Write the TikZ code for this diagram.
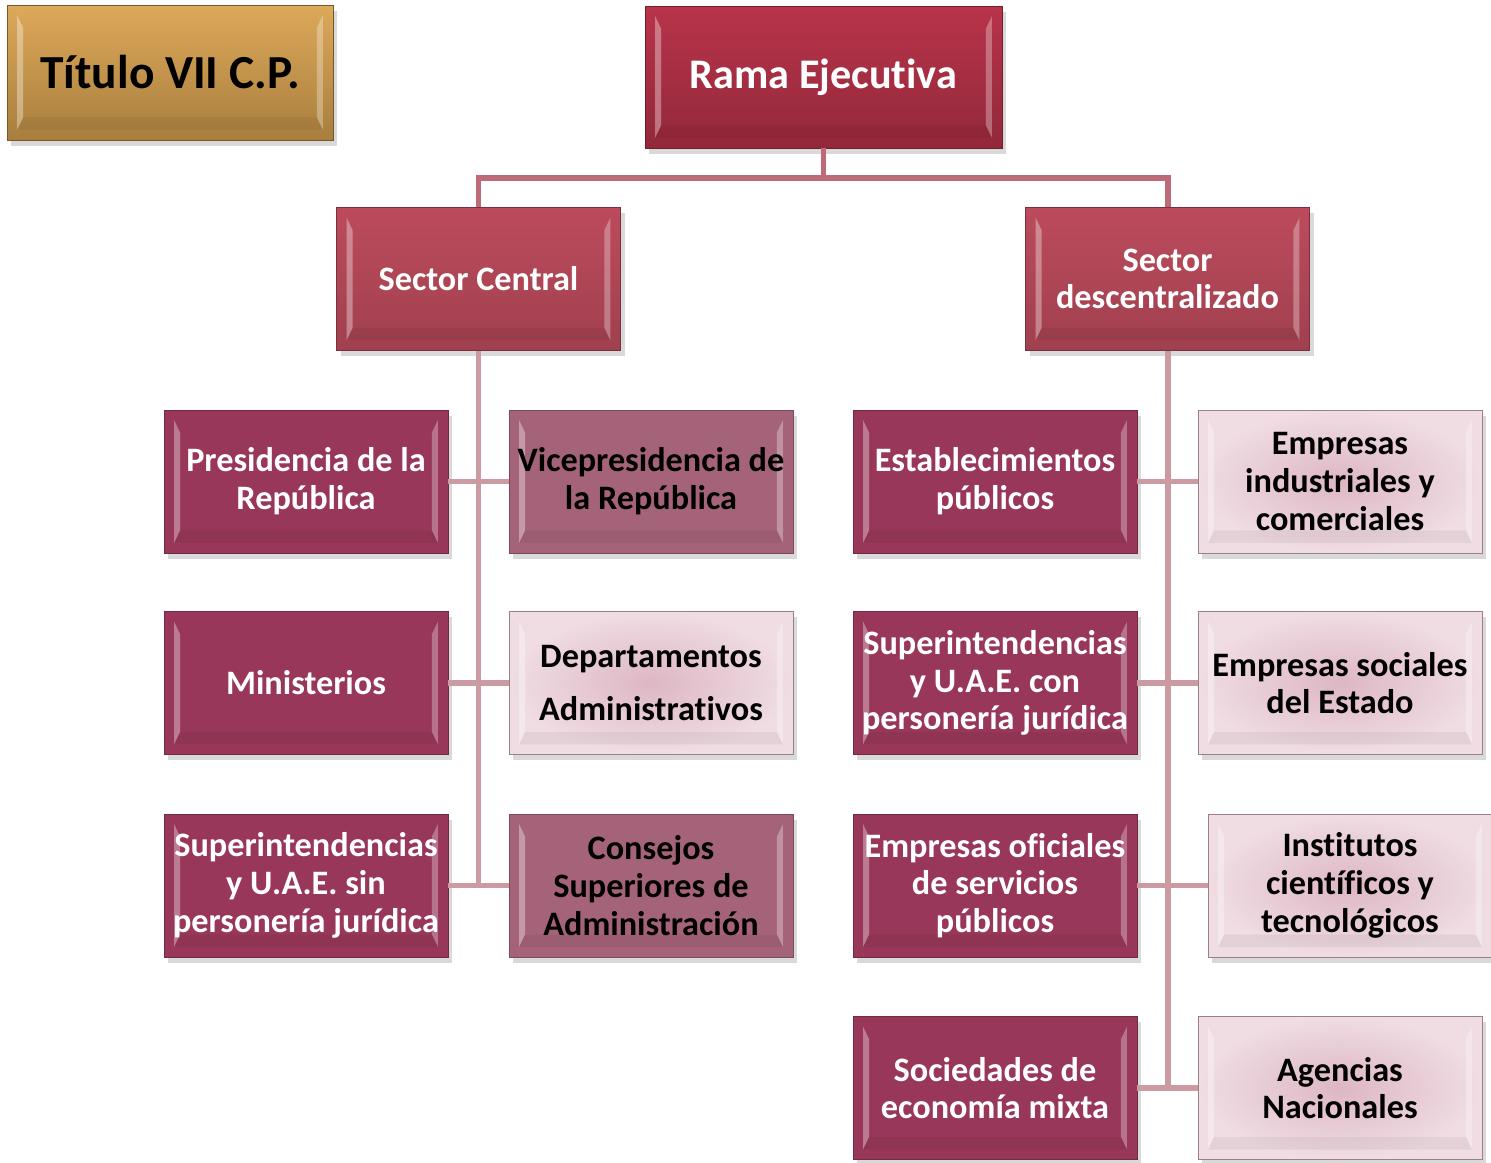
\documentclass[tikz,border=0pt]{standalone}
\usepackage{fontspec}
\setmainfont{Carlito}[Ligatures=NoCommon]
\usetikzlibrary{shadows}

\definecolor{goldtop}{HTML}{DDA95A}
\definecolor{goldbot}{HTML}{A87E3E}
\definecolor{ramatop}{HTML}{B8344A}
\definecolor{ramabot}{HTML}{93283B}
\definecolor{sectop}{HTML}{BC4B5C}
\definecolor{secbot}{HTML}{A0404F}
\definecolor{darkmag}{HTML}{983759}
\definecolor{midmag}{HTML}{A5637A}
\definecolor{lightout}{HTML}{F0DDE3}
\definecolor{lightin}{HTML}{DDB7C3}
\definecolor{topline}{HTML}{BE6A78}
\definecolor{trunkline}{HTML}{CC9AA2}

\tikzset{
  bevel/.style={path picture={
    \fill[white,opacity=.35]
      ([shift={(0.2cm,0.2cm)}]path picture bounding box.south west) --
      ([shift={(0.2cm,-0.2cm)}]path picture bounding box.north west) --
      ([shift={(0.32cm,-0.45cm)}]path picture bounding box.north west) --
      ([shift={(0.32cm,0.45cm)}]path picture bounding box.south west) -- cycle;
    \fill[white,opacity=.3]
      ([shift={(-0.2cm,0.2cm)}]path picture bounding box.south east) --
      ([shift={(-0.2cm,-0.2cm)}]path picture bounding box.north east) --
      ([shift={(-0.32cm,-0.45cm)}]path picture bounding box.north east) --
      ([shift={(-0.32cm,0.45cm)}]path picture bounding box.south east) -- cycle;
    \fill[black,opacity=.05]
      ([shift={(0.2cm,0.2cm)}]path picture bounding box.south west) --
      ([shift={(-0.2cm,0.2cm)}]path picture bounding box.south east) --
      ([shift={(-0.32cm,0.45cm)}]path picture bounding box.south east) --
      ([shift={(0.32cm,0.45cm)}]path picture bounding box.south west) -- cycle;
  }},
  unitbox/.style={rectangle, minimum width=5.68cm, minimum height=2.86cm,
    align=center, inner sep=1pt, line width=0.5pt,
    font=\fontsize{19.5}{21.5}\selectfont\bfseries,
    drop shadow={shadow xshift=0.5ex, shadow yshift=-0.7ex, opacity=.3}, bevel},
  darkbox/.style={unitbox, fill=darkmag, draw=darkmag!75!black, text=white},
  midbox/.style={unitbox, fill=midmag, draw=midmag!75!black, text=black},
  lightbox/.style={unitbox, inner color=lightin, outer color=lightout,
    draw=lightin!70!black, text=black},
  secbox/.style={unitbox, top color=sectop, bottom color=secbot,
    draw=secbot!75!black, text=white},
  link/.style={trunkline, line width=3.4pt},
}

\begin{document}
\begin{tikzpicture}[x=0.02cm, y=-0.02cm]
  \useasboundingbox (0,0) rectangle (1491,1163);

  \node [unitbox, minimum width=6.52cm, minimum height=2.7cm, top color=goldtop,
         bottom color=goldbot, draw=goldbot!70!black, text=black,
         font=\fontsize{27}{30}\selectfont\bfseries] (titulo) at (170,72.5) {Título VII C.P.};
  \node [unitbox, minimum width=7.14cm, minimum height=2.84cm, top color=ramatop,
         bottom color=ramabot, draw=ramabot!75!black, text=white,
         font=\fontsize{24}{28}\selectfont\bfseries] (rama) at (823.5,77) {Rama Ejecutiva};

  \node [secbox] (central) at (478.5,279) {Sector Central};
  \node [secbox] (descent) at (1167.5,279) {Sector\\descentralizado};

  % sector central
  \node [darkbox] (presid) at (306,481.5) {Presidencia de la\\República};
  \node [midbox] (vicepr) at (651,481.5) {Vicepresidencia de\\la República};
  \node [darkbox] (minist) at (306,683) {Ministerios};
  \node [lightbox, font=\fontsize{19.5}{30}\selectfont\bfseries] (dptos) at (651,683) {Departamentos\\Administrativos};
  \node [darkbox] (supsin) at (306,885.5) {Superintendencias\\y U.A.E. sin\\personería jurídica};
  \node [midbox] (consej) at (651,885.5) {Consejos\\Superiores de\\Administración};

  % sector descentralizado
  \node [darkbox] (establ) at (995,481.5) {Establecimientos\\públicos};
  \node [lightbox] (empind) at (1340,481.5) {Empresas\\industriales y\\comerciales};
  \node [darkbox] (supcon) at (995,683) {Superintendencias\\y U.A.E. con\\personería jurídica};
  \node [lightbox] (empsoc) at (1340,683) {Empresas sociales\\del Estado};
  \node [darkbox] (empofi) at (995,885.5) {Empresas oficiales\\de servicios\\públicos};
  \node [lightbox] (instit) at (1350,885.5) {Institutos\\científicos y\\tecnológicos};
  \node [darkbox] (socmix) at (995,1088) {Sociedades de\\economía mixta};
  \node [lightbox] (agenc) at (1340,1088) {Agencias\\Nacionales};

  % connectors
  \coordinate (split) at (823.5,178);
  \draw [link, topline] (rama.south) -- (split) -| (central.north);
  \draw [link, topline] (split) -| (descent.north);

  \coordinate (cend) at (central.south |- supsin.east);
  \coordinate (dend) at (descent.south |- socmix.east);
  \draw [link] (central.south) -- (cend);
  \draw [link] (descent.south) -- (dend);
  \foreach \a/\b in {presid/vicepr, minist/dptos, supsin/consej,
                     establ/empind, supcon/empsoc, empofi/instit, socmix/agenc}
    \draw [link] (\a.east) -- (\b.west);
\end{tikzpicture}
\end{document}
